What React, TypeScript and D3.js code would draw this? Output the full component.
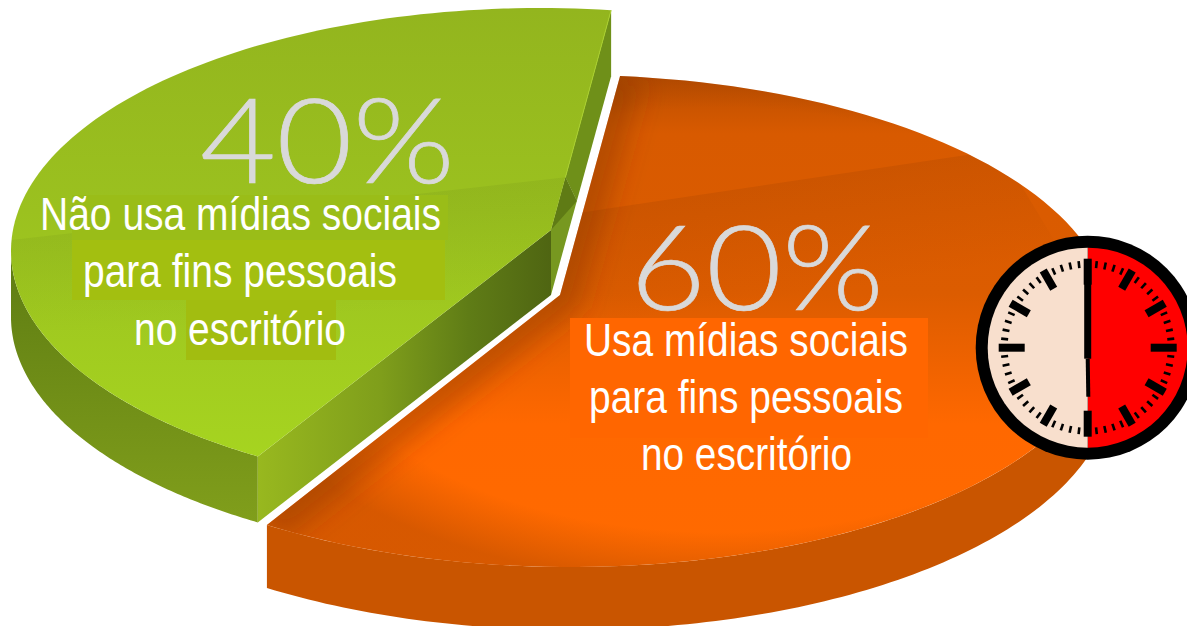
import * as d3 from "d3";

const width = 1187;
const height = 626;

// data
const shareNames = ["usa", "nao"];
const shareValues = [60, 40];
const shareLabels = ["60%", "40%"];
const usaLines = ["Usa mídias sociais", "para fins pessoais", "no escritório"];
const naoLines = ["Não usa mídias sociais", "para fins pessoais", "no escritório"];
const clockValues = [30, 30];
const clockColors = ["#ff0000", "#f8dfcd"];
const clockMinutes = d3.range(60);

type Pt = [number, number];
const deg = (d: number) => (d * Math.PI) / 180;

// the picture is in perspective, so each slice has its own ellipse and its own apex
const usaGeo = { cx: 570, cy: 321, rx: 542, ry: 246, depth: 63, apex: [560, 295] as Pt, from: deg(5.3), to: deg(214) };
const naoGeo = { cx: 541, cy: 251, rx: 530, ry: 243, depth: 66, apex: [551, 230] as Pt, from: deg(212.3), to: deg(367.6) };

const rim = (g: typeof usaGeo, a: number, dy = 0): Pt => [
  g.cx + g.rx * Math.sin(a),
  g.cy - g.ry * Math.cos(a) + dy,
];
const mix = (a: Pt, b: Pt, t: number): Pt => d3.interpolate(a, b)(t) as Pt;
const line = d3.line<Pt>();

const pie = d3.pie<number>().sort(null);
const arcs = pie(shareValues);

const sampleRim = (g: typeof usaGeo, a0: number, a1: number, dy = 0) =>
  d3.range(0, 1.0001, 1 / 120).map((t) => rim(g, a0 + (a1 - a0) * t, dy));

// maps the pie's angles on to the visible sweep of that slice's ellipse
const surface = (g: typeof usaGeo, d: d3.PieArcDatum<number>) => {
  const sweep = d3.scaleLinear().domain([d.startAngle, d.endAngle]).range([g.from, g.to]);
  return line([g.apex, ...sampleRim(g, sweep(d.startAngle), sweep(d.endAngle))]) + "Z";
};
const wall = (g: typeof usaGeo, a0: number, a1: number) =>
  line([...sampleRim(g, a0, a1), ...sampleRim(g, a1, a0, g.depth)]) + "Z";

const usaTop = surface(usaGeo, arcs[0]);
const naoTop = surface(naoGeo, arcs[1]);
const usaSide = wall(usaGeo, deg(90), usaGeo.to);
const naoSide = wall(naoGeo, naoGeo.from, deg(270));
const usaCutEdge = line([rim(usaGeo, usaGeo.from), usaGeo.apex, rim(usaGeo, usaGeo.to)])!;

// green slice, cut faces
const naoFront = rim(naoGeo, naoGeo.from);
const naoBack = rim(naoGeo, naoGeo.to);
const naoApexLow: Pt = [naoGeo.apex[0], naoGeo.apex[1] + naoGeo.depth - 1];
const naoFrontLow: Pt = [naoFront[0], naoFront[1] + naoGeo.depth];
const naoBackLow: Pt = [naoBack[0], naoBack[1] + naoGeo.depth];
const notch = mix(naoBack, naoGeo.apex, 0.76);
const notchLow = mix(naoBackLow, naoApexLow, 0.57);

// clock
const clockCx = 1087.7;
const clockCy = 347.7;
const clockArc = d3.arc<d3.PieArcDatum<number>>().innerRadius(0).outerRadius(100);
const clockAngle = d3.scaleLinear().domain([0, 60]).range([0, 360]);

const labelFont = "Lato, 'Open Sans', sans-serif";
const textFont = "'Liberation Sans', Arial, sans-serif";

const usaLineBoxes = [
  { x: 584, w: 324, y: 356 },
  { x: 589, w: 314, y: 413 },
  { x: 641, w: 211, y: 470 },
];
const naoLineBoxes = [
  { x: 40, w: 401, y: 230 },
  { x: 83, w: 314, y: 287 },
  { x: 134, w: 212, y: 345 },
];

export default function App() {
  return (
    <svg
      width={width}
      height={height}
      viewBox={`0 0 ${width} ${height}`}
      style={{ position: "fixed", left: 0, top: 0, background: "#fff" }}
    >
      <defs>
        <linearGradient id="usaBody" gradientUnits="userSpaceOnUse" x1="0" x2="0" y1="76" y2="560">
          <stop offset="0" stopColor="#bb4e00" />
          <stop offset="0.12" stopColor="#d85a00" />
          <stop offset="0.45" stopColor="#dc5c00" />
          <stop offset="0.72" stopColor="#ff6800" />
          <stop offset="1" stopColor="#ff6a00" />
        </linearGradient>
        <radialGradient
          id="usaEdge"
          gradientUnits="userSpaceOnUse"
          cx="0"
          cy="0"
          r="1"
          gradientTransform="translate(720 320) scale(500 265)"
        >
          <stop offset="0.8" stopColor="#7a3000" stopOpacity="0" />
          <stop offset="1" stopColor="#7a3000" stopOpacity="0.3" />
        </radialGradient>
        <linearGradient id="usaBand" gradientUnits="userSpaceOnUse" x1="760" y1="185" x2="778" y2="300">
          <stop offset="0" stopColor="#7a3000" stopOpacity="0.14" />
          <stop offset="1" stopColor="#7a3000" stopOpacity="0" />
        </linearGradient>
        <filter id="soft" filterUnits="userSpaceOnUse" x="0" y="0" width={width} height={height}>
          <feGaussianBlur stdDeviation="13" />
        </filter>
        <linearGradient id="naoBody" gradientUnits="userSpaceOnUse" x1="0" x2="0" y1="8" y2="457">
          <stop offset="0" stopColor="#93b51e" />
          <stop offset="0.45" stopColor="#9bc11f" />
          <stop offset="1" stopColor="#a6d420" />
        </linearGradient>
        <linearGradient id="naoBand" gradientUnits="userSpaceOnUse" x1="280" y1="208" x2="290" y2="320">
          <stop offset="0" stopColor="#4f6a10" stopOpacity="0.1" />
          <stop offset="1" stopColor="#4f6a10" stopOpacity="0" />
        </linearGradient>
        <linearGradient id="naoSideFill" gradientUnits="userSpaceOnUse" x1="0" x2="0" y1="260" y2="520">
          <stop offset="0" stopColor="#5f7d13" />
          <stop offset="1" stopColor="#809e1b" />
        </linearGradient>
        <linearGradient id="naoCut" gradientUnits="userSpaceOnUse" x1="258" x2="551" y1="0" y2="0">
          <stop offset="0" stopColor="#98b81f" />
          <stop offset="0.42" stopColor="#7f9e1b" />
          <stop offset="0.72" stopColor="#5f7c16" />
          <stop offset="1" stopColor="#4f6512" />
        </linearGradient>
        <clipPath id="usaClip">
          <path d={usaTop} />
        </clipPath>
        <clipPath id="naoClip">
          <path d={naoTop} />
        </clipPath>
      </defs>

      {/* orange slice */}
      <g data-name={shareNames[0]}>
        <path d={usaSide} fill="#c95500" />
        <path d={usaTop} fill="url(#usaBody)" />
        <g clipPath="url(#usaClip)">
          <path d={line([[578, 213], [1000, 150], [1120, 350], [540, 350]]) + "Z"} fill="url(#usaBand)" />
          <rect width={width} height={height} fill="url(#usaEdge)" />
          {/* soft shade along the two cut edges */}
          <path d={usaCutEdge} fill="none" stroke="#7a3000" strokeOpacity={0.38} strokeWidth={44} filter="url(#soft)" />
        </g>
        <rect x={570} y={318} width={358} height={120} fill="#ff6600" />
      </g>

      {/* green slice */}
      <g data-name={shareNames[1]}>
        <path d={naoSide} fill="url(#naoSideFill)" />
        <path d={line([naoFront, naoGeo.apex, naoApexLow, naoFrontLow]) + "Z"} fill="url(#naoCut)" />
        <path d={line([naoBack, naoBackLow, notchLow, notch]) + "Z"} fill="#6f9019" />
        <path d={line([notch, notchLow, naoApexLow, naoGeo.apex]) + "Z"} fill="#779820" />
        <path d={line([notch, notchLow, naoGeo.apex]) + "Z"} fill="#5f7b15" />
        <path d={naoTop} fill="url(#naoBody)" />
        <g clipPath="url(#naoClip)">
          <path d={line([[10, 240], notch, [600, 330], [0, 330]]) + "Z"} fill="url(#naoBand)" />
        </g>
        <path d={line([naoBack, notch])!} stroke="#a9cf2c" strokeWidth={1} fill="none" />
        <rect x={72} y={195} width={376} height={45} fill="#9abd18" />
        <rect x={72} y={240} width={373} height={60} fill="#a3bf10" />
        <rect x={186} y={300} width={150} height={60} fill="#a2bd10" />
      </g>

      {/* percentages */}
      <text
        x={630}
        y={310}
        textLength={254}
        lengthAdjust="spacingAndGlyphs"
        fontFamily={labelFont}
        fontWeight={300}
        fontSize={118}
        stroke="#d9d9d9"
        strokeWidth={0.7}
        fill="#d9d9d9"
      >
        {shareLabels[0]}
      </text>
      <text
        x={200}
        y={183}
        textLength={255}
        lengthAdjust="spacingAndGlyphs"
        fontFamily={labelFont}
        fontWeight={300}
        fontSize={118}
        stroke="#d9d9d9"
        strokeWidth={0.7}
        fill="#d9d9d9"
      >
        {shareLabels[1]}
      </text>

      {usaLines.map((t, i) => (
        <text
          key={"u" + i}
          x={usaLineBoxes[i].x}
          y={usaLineBoxes[i].y}
          textLength={usaLineBoxes[i].w}
          lengthAdjust="spacingAndGlyphs"
          fontFamily={textFont}
          fontSize={46}
          fill="#fff"
        >
          {t}
        </text>
      ))}
      {naoLines.map((t, i) => (
        <text
          key={"n" + i}
          x={naoLineBoxes[i].x}
          y={naoLineBoxes[i].y}
          textLength={naoLineBoxes[i].w}
          lengthAdjust="spacingAndGlyphs"
          fontFamily={textFont}
          fontSize={46}
          fill="#fff"
        >
          {t}
        </text>
      ))}

      {/* clock */}
      <g transform={`translate(${clockCx},${clockCy})`}>
        <circle r={112} fill="#000" />
        {pie(clockValues).map((d, i) => (
          <path key={i} d={clockArc(d)!} fill={clockColors[i]} />
        ))}
        {clockMinutes.map((m) => {
          const quarter = m % 15 === 0;
          const hour = m % 5 === 0;
          const r0 = quarter ? 63 : hour ? 68 : 80;
          const r1 = hour ? 89 : 87;
          return (
            <rect
              key={m}
              x={hour ? -4 : -1.3}
              y={-r1}
              width={hour ? 8 : 2.6}
              height={r1 - r0}
              fill="#000"
              transform={`rotate(${clockAngle(m)})`}
            />
          );
        })}
        <rect x={-3.5} y={-88} width={7} height={99} fill="#000" />
        <path d="M-2,11 L2,11 L2.6,49 L-1.4,49Z" fill="#000" />
      </g>
    </svg>
  );
}
